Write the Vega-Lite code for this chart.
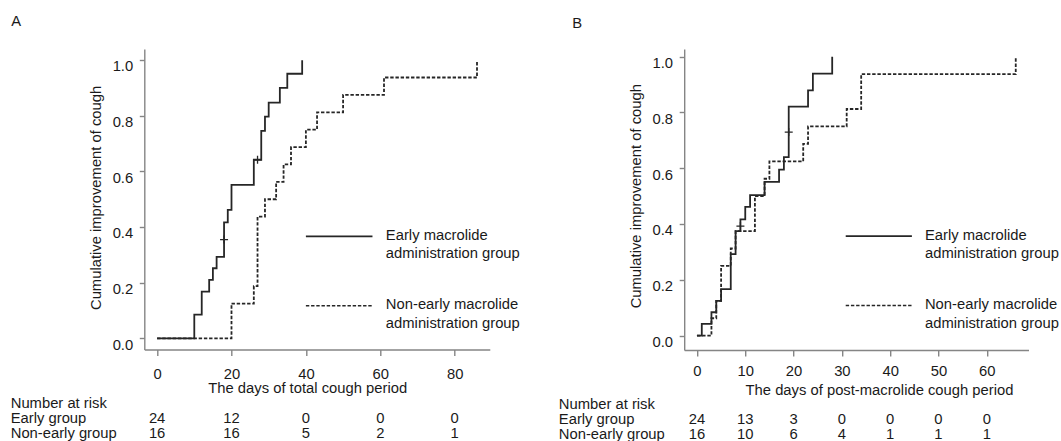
{
  "$schema": "https://vega.github.io/schema/vega-lite/v6.json",
  "padding": {"left": 10.3, "top": 14, "right": 0, "bottom": 0},
  "background": "white",
  "config": {
    "view": {"stroke": null},
    "font": "Liberation Sans",
    "text": {"font": "Liberation Sans", "fontSize": 14.8, "color": "#1a1a1a", "baseline": "alphabetic"},
    "axis": {
      "domainColor": "#858585", "tickColor": "#858585", "domainWidth": 1.4, "tickWidth": 1.4,
      "grid": false, "labelFont": "Liberation Sans", "labelFontSize": 14.8, "labelColor": "#1a1a1a",
      "titleFont": "Liberation Sans", "titleFontSize": 14.8, "titleFontWeight": "normal", "titleColor": "#1a1a1a",
      "labelFlush": false, "labelOverlap": false
    }
  },
  "datasets": {
    "curveA": [
      {"group": "Early", "day": 0, "value": 0},
      {"group": "Early", "day": 10, "value": 0.085},
      {"group": "Early", "day": 12, "value": 0.168},
      {"group": "Early", "day": 14, "value": 0.21},
      {"group": "Early", "day": 15, "value": 0.252},
      {"group": "Early", "day": 16, "value": 0.293},
      {"group": "Early", "day": 18, "value": 0.417},
      {"group": "Early", "day": 19, "value": 0.462},
      {"group": "Early", "day": 20, "value": 0.552},
      {"group": "Early", "day": 26, "value": 0.642},
      {"group": "Early", "day": 28, "value": 0.746},
      {"group": "Early", "day": 29, "value": 0.797},
      {"group": "Early", "day": 30, "value": 0.847},
      {"group": "Early", "day": 33, "value": 0.9},
      {"group": "Early", "day": 35, "value": 0.951},
      {"group": "Early", "day": 39, "value": 1.0},
      {"group": "Non-early", "day": 0, "value": 0},
      {"group": "Non-early", "day": 20, "value": 0.125},
      {"group": "Non-early", "day": 26, "value": 0.1875},
      {"group": "Non-early", "day": 27, "value": 0.4375},
      {"group": "Non-early", "day": 29, "value": 0.5},
      {"group": "Non-early", "day": 32, "value": 0.5625},
      {"group": "Non-early", "day": 34, "value": 0.625},
      {"group": "Non-early", "day": 36, "value": 0.6875},
      {"group": "Non-early", "day": 40, "value": 0.75},
      {"group": "Non-early", "day": 43, "value": 0.8125},
      {"group": "Non-early", "day": 50, "value": 0.875},
      {"group": "Non-early", "day": 61, "value": 0.9375},
      {"group": "Non-early", "day": 86, "value": 1.0}
    ],
    "censorA": [
      {"group": "Early", "day": 18, "value": 0.355},
      {"group": "Early", "day": 27, "value": 0.642}
    ],
    "riskA": [
      {"group": "Early", "day": 0, "n": 24},
      {"group": "Early", "day": 20, "n": 12},
      {"group": "Early", "day": 40, "n": 0},
      {"group": "Early", "day": 60, "n": 0},
      {"group": "Early", "day": 80, "n": 0},
      {"group": "Non-early", "day": 0, "n": 16},
      {"group": "Non-early", "day": 20, "n": 16},
      {"group": "Non-early", "day": 40, "n": 5},
      {"group": "Non-early", "day": 60, "n": 2},
      {"group": "Non-early", "day": 80, "n": 1}
    ],
    "curveB": [
      {"group": "Early", "day": 0, "value": 0},
      {"group": "Early", "day": 1, "value": 0.042},
      {"group": "Early", "day": 3, "value": 0.084},
      {"group": "Early", "day": 4, "value": 0.125},
      {"group": "Early", "day": 5, "value": 0.167},
      {"group": "Early", "day": 7, "value": 0.292},
      {"group": "Early", "day": 8, "value": 0.375},
      {"group": "Early", "day": 9, "value": 0.417},
      {"group": "Early", "day": 10, "value": 0.462},
      {"group": "Early", "day": 11, "value": 0.504},
      {"group": "Early", "day": 14, "value": 0.551},
      {"group": "Early", "day": 17, "value": 0.595},
      {"group": "Early", "day": 18, "value": 0.64},
      {"group": "Early", "day": 19, "value": 0.821},
      {"group": "Early", "day": 23, "value": 0.879},
      {"group": "Early", "day": 24, "value": 0.939},
      {"group": "Early", "day": 28, "value": 1.0},
      {"group": "Non-early", "day": 0, "value": 0},
      {"group": "Non-early", "day": 3, "value": 0.0625},
      {"group": "Non-early", "day": 4, "value": 0.125},
      {"group": "Non-early", "day": 5, "value": 0.25},
      {"group": "Non-early", "day": 7, "value": 0.3125},
      {"group": "Non-early", "day": 8, "value": 0.375},
      {"group": "Non-early", "day": 12, "value": 0.5},
      {"group": "Non-early", "day": 14, "value": 0.5625},
      {"group": "Non-early", "day": 15, "value": 0.625},
      {"group": "Non-early", "day": 22, "value": 0.6875},
      {"group": "Non-early", "day": 23, "value": 0.75},
      {"group": "Non-early", "day": 31, "value": 0.8125},
      {"group": "Non-early", "day": 34, "value": 0.9375},
      {"group": "Non-early", "day": 66, "value": 1.0}
    ],
    "censorB": [
      {"group": "Early", "day": 9, "value": 0.393},
      {"group": "Early", "day": 19, "value": 0.73}
    ],
    "riskB": [
      {"group": "Early", "day": 0, "n": 24},
      {"group": "Early", "day": 10, "n": 13},
      {"group": "Early", "day": 20, "n": 3},
      {"group": "Early", "day": 30, "n": 0},
      {"group": "Early", "day": 40, "n": 0},
      {"group": "Early", "day": 50, "n": 0},
      {"group": "Early", "day": 60, "n": 0},
      {"group": "Non-early", "day": 0, "n": 16},
      {"group": "Non-early", "day": 10, "n": 10},
      {"group": "Non-early", "day": 20, "n": 6},
      {"group": "Non-early", "day": 30, "n": 4},
      {"group": "Non-early", "day": 40, "n": 1},
      {"group": "Non-early", "day": 50, "n": 1},
      {"group": "Non-early", "day": 60, "n": 1}
    ]
  },
  "spacing": 193.9,
  "bounds": "flush",
  "hconcat": [
    {
      "width": 345.5,
      "height": 300.5,
      "layer": [
        {
          "data": {"name": "curveA"},
          "mark": {"type": "line", "interpolate": "step-after", "strokeWidth": 1.8, "color": "#262626"},
          "encoding": {
            "x": {"field": "day", "type": "quantitative",
              "scale": {"domain": [-3.44, 89.44], "nice": false, "zero": false},
              "axis": {"values": [0, 20, 40, 60, 80], "title": "The days of total cough period",
                "tickSize": 6, "labelPadding": 23.2, "labelBaseline": "alphabetic",
                "titleX": 162.9, "titleY": 43.3, "titleBaseline": "alphabetic", "titleAlign": "center"}},
            "y": {"field": "value", "type": "quantitative",
              "scale": {"domain": [-0.04, 1.04], "nice": false, "zero": false},
              "axis": {"values": [0, 0.2, 0.4, 0.6, 0.8, 1.0], "format": ".1f", "title": "Cumulative improvement of cough",
                "tickSize": 5, "labelPadding": 6.6, "labelBaseline": "alphabetic", "labelOffset": 10.8,
                "titleX": -43.7, "titleY": 148.4, "titleAngle": -90, "titleBaseline": "alphabetic", "titleAlign": "center"}},
            "detail": {"field": "group"},
            "strokeDash": {"field": "group", "type": "nominal",
              "scale": {"domain": ["Early", "Non-early"], "range": [[1, 0], [3.4, 1.8]]}, "legend": null}
          }
        },
        {
          "data": {"name": "censorA"},
          "mark": {"type": "point", "shape": "M-1,0H1M0,-1V1", "filled": false, "size": 64, "strokeWidth": 1.3, "color": "#262626", "opacity": 1},
          "encoding": {
            "x": {"field": "day", "type": "quantitative"},
            "y": {"field": "value", "type": "quantitative"}
          }
        },
        {
          "data": {"values": [{}]},
          "mark": {"type": "rule", "strokeWidth": 1.8, "color": "#262626"},
          "encoding": {
            "x": {"datum": 40.0, "type": "quantitative"},
            "x2": {"datum": 57.9},
            "y": {"datum": 0.3665, "type": "quantitative"}
          }
        },
        {
          "data": {"values": [{}]},
          "mark": {"type": "rule", "strokeWidth": 1.6, "color": "#262626", "strokeDash": [3.4, 1.8]},
          "encoding": {
            "x": {"datum": 40.0, "type": "quantitative"},
            "x2": {"datum": 57.9},
            "y": {"datum": 0.117, "type": "quantitative"}
          }
        },
        {
          "data": {"values": [{}]},
          "mark": {"type": "text", "align": "left", "lineHeight": 18.2},
          "encoding": {
            "x": {"datum": 61.5, "type": "quantitative"},
            "y": {"datum": 0.353, "type": "quantitative"},
            "text": {"value": ["Early macrolide", "administration group"]}
          }
        },
        {
          "data": {"values": [{}]},
          "mark": {"type": "text", "align": "left", "lineHeight": 18.2},
          "encoding": {
            "x": {"datum": 61.5, "type": "quantitative"},
            "y": {"datum": 0.104, "type": "quantitative"},
            "text": {"value": ["Non-early macrolide", "administration group"]}
          }
        },
        {
          "data": {"values": [{}]},
          "mark": {"type": "text", "align": "left"},
          "encoding": {
            "x": {"datum": -39.2, "type": "quantitative"},
            "y": {"datum": 1.121, "type": "quantitative"},
            "text": {"value": "A"}
          }
        },
        {
          "data": {"values": [{}]},
          "mark": {"type": "text", "align": "left", "lineHeight": 15.3},
          "encoding": {
            "x": {"datum": -39.35, "type": "quantitative"},
            "y": {"datum": -0.249, "type": "quantitative"},
            "text": {"value": ["Number at risk", "Early group", "Non-early group"]}
          }
        },
        {
          "data": {"name": "riskA"},
          "transform": [{"filter": "datum.group === 'Early'"}],
          "mark": {"type": "text", "align": "center"},
          "encoding": {
            "x": {"field": "day", "type": "quantitative"},
            "y": {"datum": -0.303, "type": "quantitative"},
            "text": {"field": "n", "type": "quantitative"}
          }
        },
        {
          "data": {"name": "riskA"},
          "transform": [{"filter": "datum.group === 'Non-early'"}],
          "mark": {"type": "text", "align": "center"},
          "encoding": {
            "x": {"field": "day", "type": "quantitative"},
            "y": {"datum": -0.359, "type": "quantitative"},
            "text": {"field": "n", "type": "quantitative"}
          }
        }
      ]
    },
    {
      "width": 344.3,
      "height": 301,
      "layer": [
        {
          "data": {"name": "curveB"},
          "mark": {"type": "line", "interpolate": "step-after", "strokeWidth": 1.8, "color": "#262626"},
          "encoding": {
            "x": {"field": "day", "type": "quantitative",
              "scale": {"domain": [-2.64, 68.64], "nice": false, "zero": false},
              "axis": {"values": [0, 10, 20, 30, 40, 50, 60], "title": "The days of  post-macrolide cough period",
                "tickSize": 6, "labelPadding": 20, "labelBaseline": "alphabetic",
                "titleX": 194.8, "titleY": 44.5, "titleBaseline": "alphabetic", "titleAlign": "center"}},
            "y": {"field": "value", "type": "quantitative",
              "scale": {"domain": [-0.0513, 1.0276], "nice": false, "zero": false},
              "axis": {"values": [0, 0.2, 0.4, 0.6, 0.8, 1.0], "format": ".1f", "title": "Cumulative improvement of cough",
                "tickSize": 5, "labelPadding": 6.6, "labelBaseline": "alphabetic", "labelOffset": 10.8,
                "titleX": -43.3, "titleY": 146.7, "titleAngle": -90, "titleBaseline": "alphabetic", "titleAlign": "center"}},
            "detail": {"field": "group"},
            "strokeDash": {"field": "group", "type": "nominal",
              "scale": {"domain": ["Early", "Non-early"], "range": [[1, 0], [3.4, 1.8]]}, "legend": null}
          }
        },
        {
          "data": {"name": "censorB"},
          "mark": {"type": "point", "shape": "M-1,0H1M0,-1V1", "filled": false, "size": 64, "strokeWidth": 1.3, "color": "#262626", "opacity": 1},
          "encoding": {
            "x": {"field": "day", "type": "quantitative"},
            "y": {"field": "value", "type": "quantitative"}
          }
        },
        {
          "data": {"values": [{}]},
          "mark": {"type": "rule", "strokeWidth": 1.8, "color": "#262626"},
          "encoding": {
            "x": {"datum": 30.8, "type": "quantitative"},
            "x2": {"datum": 44.5},
            "y": {"datum": 0.357, "type": "quantitative"}
          }
        },
        {
          "data": {"values": [{}]},
          "mark": {"type": "rule", "strokeWidth": 1.6, "color": "#262626", "strokeDash": [3.4, 1.8]},
          "encoding": {
            "x": {"datum": 30.8, "type": "quantitative"},
            "x2": {"datum": 44.5},
            "y": {"datum": 0.108, "type": "quantitative"}
          }
        },
        {
          "data": {"values": [{}]},
          "mark": {"type": "text", "align": "left", "lineHeight": 18.2},
          "encoding": {
            "x": {"datum": 47.2, "type": "quantitative"},
            "y": {"datum": 0.342, "type": "quantitative"},
            "text": {"value": ["Early macrolide", "administration group"]}
          }
        },
        {
          "data": {"values": [{}]},
          "mark": {"type": "text", "align": "left", "lineHeight": 18.2},
          "encoding": {
            "x": {"datum": 47.2, "type": "quantitative"},
            "y": {"datum": 0.094, "type": "quantitative"},
            "text": {"value": ["Non-early macrolide", "administration group"]}
          }
        },
        {
          "data": {"values": [{}]},
          "mark": {"type": "text", "align": "left"},
          "encoding": {
            "x": {"datum": -25.8, "type": "quantitative"},
            "y": {"datum": 1.104, "type": "quantitative"},
            "text": {"value": "B"}
          }
        },
        {
          "data": {"values": [{}]},
          "mark": {"type": "text", "align": "left", "lineHeight": 15},
          "encoding": {
            "x": {"datum": -28.6, "type": "quantitative"},
            "y": {"datum": -0.264, "type": "quantitative"},
            "text": {"value": ["Number at risk", "Early group", "Non-early group"]}
          }
        },
        {
          "data": {"name": "riskB"},
          "transform": [{"filter": "datum.group === 'Early'"}],
          "mark": {"type": "text", "align": "center"},
          "encoding": {
            "x": {"field": "day", "type": "quantitative"},
            "y": {"datum": -0.315, "type": "quantitative"},
            "text": {"field": "n", "type": "quantitative"}
          }
        },
        {
          "data": {"name": "riskB"},
          "transform": [{"filter": "datum.group === 'Non-early'"}],
          "mark": {"type": "text", "align": "center"},
          "encoding": {
            "x": {"field": "day", "type": "quantitative"},
            "y": {"datum": -0.371, "type": "quantitative"},
            "text": {"field": "n", "type": "quantitative"}
          }
        }
      ]
    }
  ]
}
